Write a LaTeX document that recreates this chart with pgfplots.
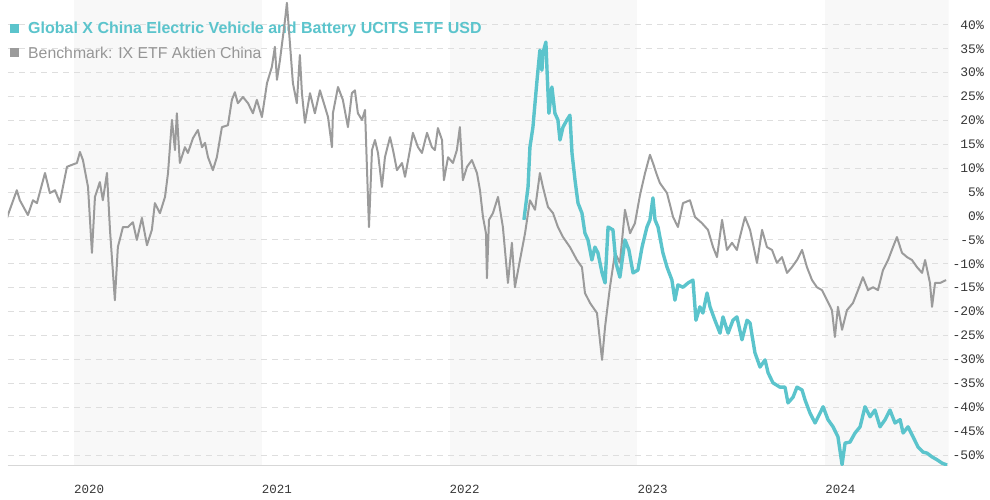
\documentclass[border=0pt]{standalone}
\usepackage{fontspec}
\setmainfont{Liberation Sans}
\newfontfamily\monof{Liberation Mono}
\usepackage{pgfplots}
\pgfplotsset{compat=1.18}
\definecolor{etf}{RGB}{91,196,204}
\definecolor{bench}{RGB}{155,155,155}
\definecolor{band}{RGB}{248,248,248}
\definecolor{gridc}{RGB}{222,222,222}
\definecolor{axc}{RGB}{215,215,215}
\definecolor{ticktext}{RGB}{55,55,55}
\definecolor{legtext}{RGB}{150,150,150}
\begin{document}
\begin{tikzpicture}
\useasboundingbox (0,0) rectangle (990pt,500pt);
\begin{axis}[
  at={(8pt,34pt)}, anchor=south west,
  scale only axis, width=940pt, height=466pt,
  xmin=2019.649, xmax=2024.654, ymin=-52.3, ymax=45.2,
  axis x line*=bottom, axis y line*=right,
  axis line style={draw=none},
  clip=true,
  xtick={2020,2021,2022,2023,2024},
  xticklabels={2020,2021,2022,2023,2024},
  xticklabel style={anchor=north west, inner sep=0pt, yshift=-19pt, font=\monof\fontsize{12.5}{14}\selectfont, text=ticktext},
  ytick={-50,-45,-40,-35,-30,-25,-20,-15,-10,-5,0,5,10,15,20,25,30,35,40},
  yticklabels={-50\%,-45\%,-40\%,-35\%,-30\%,-25\%,-20\%,-15\%,-10\%,-5\%,0\%,5\%,10\%,15\%,20\%,25\%,30\%,35\%,40\%},
  yticklabel style={anchor=east, inner sep=0pt, xshift=36pt, font=\monof\fontsize{13}{14}\selectfont, text=ticktext},
  major tick length=0pt,
]
% year bands
\fill[band] (axis cs:2020,-52.3) rectangle (axis cs:2021,45.2);
\fill[band] (axis cs:2022,-52.3) rectangle (axis cs:2023,45.2);
\fill[band] (axis cs:2024,-52.3) rectangle (axis cs:2024.654,45.2);
% grid
\pgfplotsinvokeforeach{-50,-45,-40,-35,-30,-25,-20,-15,-10,-5,0,5,10,15,20,25,30,35,40}{
  \draw[gridc, line width=1pt, dash pattern=on 6pt off 5pt] (axis cs:2019.649,#1) -- (axis cs:2024.654,#1);
}
% axis lines
\draw[axc, line width=1.8pt] (rel axis cs:0,0) -- (rel axis cs:1,0);
\draw[axc, line width=1pt] (rel axis cs:1,0) -- (rel axis cs:1,1);
% legend
\fill[etf] ([xshift=-4.5pt,yshift=-4.5pt]rel axis cs:0.00745,0.9378) rectangle ([xshift=4.5pt,yshift=4.5pt]rel axis cs:0.00745,0.9378);
\node[anchor=west, inner sep=0pt, text=etf, font=\bfseries\fontsize{16}{18}\selectfont] at (rel axis cs:0.02128,0.9378) {Global X China Electric Vehicle and Battery UCITS ETF USD};
\fill[bench] ([xshift=-4.5pt,yshift=-4.5pt]rel axis cs:0.00745,0.8863) rectangle ([xshift=4.5pt,yshift=4.5pt]rel axis cs:0.00745,0.8863);
\node[anchor=west, inner sep=0pt, text=legtext, font=\fontsize{15.8}{18}\selectfont] at (rel axis cs:0.02128,0.8863) {Benchmark: IX ETF Aktien China};
% benchmark
\addplot[bench, line width=2pt, line join=round] coordinates {
(2019.643,-0.4) (2019.696,5.4) (2019.712,3.3) (2019.755,0.2) (2019.782,3.3) (2019.803,2.7)
(2019.846,9.0) (2019.872,4.8) (2019.899,5.4) (2019.925,2.9) (2019.963,10.3) (2019.989,10.7)
(2020.016,11.1) (2020.032,13.4) (2020.048,11.7) (2020.075,6.1) (2020.096,-7.7) (2020.112,4.0)
(2020.138,7.1) (2020.154,3.3) (2020.176,9.0) (2020.192,-2.9) (2020.218,-17.6) (2020.234,-6.5)
(2020.261,-2.3) (2020.288,-2.3) (2020.314,-1.3) (2020.335,-5.0) (2020.362,-0.4) (2020.389,-6.1)
(2020.415,-2.9) (2020.431,2.7) (2020.458,0.6) (2020.485,4.0) (2020.501,9.0) (2020.522,20.1)
(2020.538,13.8) (2020.548,21.5) (2020.564,11.1) (2020.591,14.4) (2020.607,13.2) (2020.634,16.3)
(2020.660,18.0) (2020.682,14.4) (2020.698,15.3) (2020.714,12.3) (2020.740,9.6) (2020.761,12.3)
(2020.788,18.6) (2020.820,19.0) (2020.841,24.3) (2020.857,25.9) (2020.873,23.6) (2020.900,24.9)
(2020.927,23.6) (2020.953,21.5) (2020.974,24.3) (2021.001,20.7) (2021.028,27.8) (2021.054,31.2)
(2021.070,35.4) (2021.081,28.5) (2021.097,32.6) (2021.124,41.0) (2021.134,44.6) (2021.150,36.2)
(2021.166,27.8) (2021.187,23.6) (2021.203,33.7) (2021.214,25.7) (2021.230,19.5) (2021.257,25.7)
(2021.283,21.5) (2021.310,26.3) (2021.337,22.8) (2021.353,20.7) (2021.374,14.4) (2021.379,21.5)
(2021.406,27.0) (2021.432,24.3) (2021.459,18.6) (2021.480,25.7) (2021.496,26.3) (2021.512,21.5)
(2021.534,20.1) (2021.550,22.2) (2021.560,10.3) (2021.571,-2.3) (2021.587,13.8) (2021.603,15.9)
(2021.619,13.2) (2021.640,6.1) (2021.656,12.3) (2021.683,16.5) (2021.699,13.8) (2021.720,9.6)
(2021.747,11.1) (2021.763,8.2) (2021.789,13.8) (2021.805,17.4) (2021.832,14.4) (2021.853,13.2)
(2021.880,17.4) (2021.906,14.4) (2021.922,13.8) (2021.938,18.4) (2021.960,15.9) (2021.970,7.5)
(2021.992,12.3) (2022.018,11.1) (2022.039,13.8) (2022.055,18.6) (2022.071,7.5) (2022.093,10.3)
(2022.119,11.7) (2022.146,9.0) (2022.162,5.4) (2022.178,-0.2) (2022.194,-3.6) (2022.199,-13.0)
(2022.210,-0.8) (2022.231,0.6) (2022.258,4.0) (2022.284,-2.3) (2022.311,-14.0) (2022.332,-5.6)
(2022.348,-14.9) (2022.375,-9.2) (2022.402,-3.6) (2022.428,3.3) (2022.455,1.3) (2022.481,9.0)
(2022.497,6.1) (2022.524,1.9) (2022.551,0.6) (2022.577,-2.3) (2022.604,-4.4) (2022.641,-6.5)
(2022.678,-9.2) (2022.705,-10.7) (2022.721,-16.1) (2022.748,-18.2) (2022.785,-20.3) (2022.812,-30.1)
(2022.828,-23.2) (2022.854,-14.9) (2022.881,-7.7) (2022.907,-9.8) (2022.934,1.3) (2022.961,-3.6)
(2022.987,-1.5) (2023.014,4.4) (2023.041,9.0) (2023.067,12.8) (2023.083,11.1) (2023.104,8.6)
(2023.120,6.9) (2023.158,4.8) (2023.190,-0.2) (2023.216,-2.3) (2023.243,2.7) (2023.280,3.3)
(2023.307,-0.2) (2023.344,-1.5) (2023.376,-2.9) (2023.403,-6.5) (2023.424,-8.6) (2023.451,-0.8)
(2023.477,-7.1) (2023.504,-5.6) (2023.530,-7.1) (2023.546,-4.4) (2023.573,-0.2) (2023.600,-2.9)
(2023.637,-9.8) (2023.664,-2.9) (2023.690,-6.5) (2023.717,-7.1) (2023.743,-9.8) (2023.770,-8.6)
(2023.797,-11.9) (2023.823,-10.7) (2023.850,-9.2) (2023.877,-7.1) (2023.903,-10.7) (2023.930,-13.4)
(2023.956,-14.9) (2023.983,-15.5) (2024.010,-17.6) (2024.036,-19.7) (2024.052,-25.3) (2024.068,-19.0)
(2024.090,-23.8) (2024.116,-19.7) (2024.148,-18.2) (2024.175,-15.5) (2024.201,-12.8) (2024.228,-15.5)
(2024.255,-14.9) (2024.281,-15.5) (2024.308,-11.3) (2024.335,-9.2) (2024.361,-6.5) (2024.382,-4.4)
(2024.409,-7.7) (2024.436,-8.6) (2024.462,-9.2) (2024.489,-10.7) (2024.516,-11.9) (2024.532,-9.2)
(2024.558,-14.0) (2024.569,-19.0) (2024.585,-14.0) (2024.612,-14.0) (2024.644,-13.4)
};
% ETF
\addplot[etf, line width=3.4pt, line join=round] coordinates {
(2022.396,-0.8) (2022.418,6.1) (2022.428,14.4) (2022.444,18.6) (2022.455,23.6) (2022.466,28.5)
(2022.481,34.7) (2022.492,30.5) (2022.497,34.1) (2022.513,36.4) (2022.519,30.5) (2022.529,21.5)
(2022.545,27.0) (2022.561,21.5) (2022.577,20.1) (2022.588,15.9) (2022.604,18.6) (2022.625,20.1)
(2022.641,21.1) (2022.652,13.2) (2022.668,7.5) (2022.684,2.7) (2022.705,0.6) (2022.721,-3.6)
(2022.737,-5.0) (2022.758,-9.2) (2022.774,-6.5) (2022.790,-7.7) (2022.812,-11.9) (2022.828,-14.0)
(2022.844,-2.3) (2022.870,-2.9) (2022.886,-9.8) (2022.907,-12.8) (2022.934,-5.0) (2022.955,-7.1)
(2022.977,-11.9) (2023.003,-11.3) (2023.025,-6.5) (2023.051,-2.3) (2023.067,-0.8) (2023.083,3.8)
(2023.094,-0.8) (2023.110,-2.3) (2023.136,-7.7) (2023.158,-10.7) (2023.184,-13.4) (2023.200,-17.6)
(2023.216,-14.4) (2023.243,-14.9) (2023.270,-14.0) (2023.296,-13.4) (2023.312,-21.8) (2023.333,-19.0)
(2023.349,-20.3) (2023.371,-16.1) (2023.387,-19.0) (2023.413,-21.8) (2023.440,-24.5) (2023.456,-21.1)
(2023.483,-24.5) (2023.509,-21.8) (2023.530,-21.1) (2023.557,-25.9) (2023.584,-21.8) (2023.600,-22.4)
(2023.626,-28.6) (2023.653,-31.6) (2023.680,-30.1) (2023.696,-32.8) (2023.722,-34.9) (2023.759,-35.8)
(2023.786,-35.8) (2023.802,-39.1) (2023.829,-37.9) (2023.850,-35.8) (2023.877,-36.4) (2023.893,-38.5)
(2023.919,-41.2) (2023.946,-43.3) (2023.973,-41.2) (2023.989,-39.9) (2024.015,-42.6) (2024.042,-44.1)
(2024.068,-46.2) (2024.090,-52.0) (2024.106,-47.5) (2024.132,-47.3) (2024.159,-45.4) (2024.186,-44.1)
(2024.212,-39.9) (2024.239,-42.0) (2024.265,-40.6) (2024.292,-44.1) (2024.319,-42.6) (2024.345,-40.6)
(2024.372,-43.3) (2024.399,-42.6) (2024.415,-45.4) (2024.441,-44.1) (2024.468,-46.2) (2024.494,-48.3)
(2024.521,-49.4) (2024.542,-49.6) (2024.569,-50.4) (2024.596,-51.0) (2024.622,-51.7) (2024.649,-52.1)
};
\end{axis}
\end{tikzpicture}
\end{document}
